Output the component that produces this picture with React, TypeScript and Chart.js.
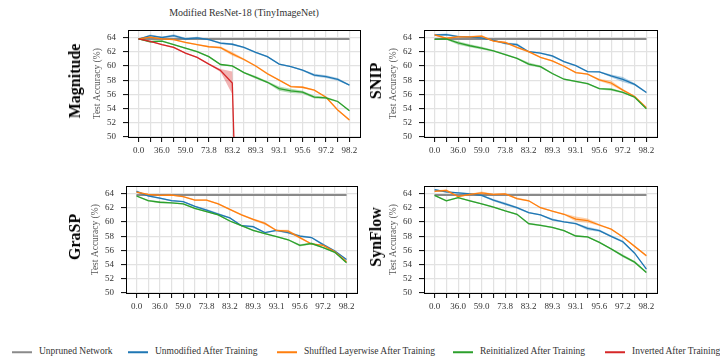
import React, { useEffect, useRef } from "react";
import { Chart, registerables } from "chart.js";
Chart.register(...registerables);

// ---------- data ----------
const sparsityLabels = ["0.0","20.0","36.0","48.8","59.0","67.2","73.8","79.0","83.2","86.6","89.3","91.4","93.1","94.5","95.6","96.5","97.2","97.7","98.2"];
const yTickValues = [50, 52, 54, 56, 58, 60, 62, 64];
const unprunedAcc = [63.78,63.78,63.78,63.78,63.78,63.78,63.78,63.78,63.78,63.78,63.78,63.78,63.78,63.78,63.78,63.78,63.78,63.78,63.78];

// Magnitude
const magUnmodified = [63.77,64.26,64.0,64.26,63.8,63.95,63.7,63.2,63.05,62.6,61.9,61.3,60.25,59.9,59.4,58.7,58.5,58.1,57.3];
const magUnmodifiedStd = [0.05,0.15,0.1,0.2,0.15,0.15,0.1,0.15,0.15,0.1,0.1,0.1,0.1,0.1,0.1,0.2,0.2,0.2,0.1];
const magShuffled = [63.8,64.04,63.8,63.7,63.3,63.0,62.7,62.57,61.7,60.9,60.0,58.9,58.0,57.1,57.0,56.6,55.6,53.8,52.4];
const magShuffledStd = [0.05,0.1,0.1,0.1,0.1,0.1,0.1,0.15,0.25,0.15,0.1,0.15,0.1,0.1,0.15,0.1,0.1,0.1,0.15];
const magReinit = [63.8,63.4,63.5,63.0,62.5,62.0,61.3,60.2,60.0,59.05,58.4,57.7,56.8,56.5,56.3,55.6,55.5,55.0,53.7];
const magReinitStd = [0.05,0.15,0.1,0.1,0.1,0.1,0.1,0.1,0.1,0.1,0.2,0.15,0.3,0.3,0.2,0.2,0.15,0.1,0.1];
const magInverted = [63.8,63.46,63.0,62.6,61.8,61.2,60.25,59.36,57.6,0.5,0.5,0.5,0.5,0.5,0.5,0.5,0.5,0.5,0.5];
const magInvertedStd = [0.05,0.1,0.1,0.1,0.1,0.1,0.1,0.2,1.6,0,0,0,0,0,0,0,0,0,0];

// SNIP
const snipUnmodified = [64.36,64.4,64.13,64.04,63.96,63.6,63.16,63.0,62.0,61.8,61.4,60.6,60.04,59.2,59.16,58.6,58.1,57.4,56.27];
const snipUnmodifiedStd = [0.1,0.15,0.1,0.1,0.1,0.1,0.15,0.2,0.1,0.1,0.15,0.1,0.1,0.1,0.1,0.2,0.35,0.15,0.1];
const snipShuffled = [64.36,63.9,64.1,64.1,64.2,63.5,63.3,62.6,62.0,61.2,60.7,59.96,59.07,58.85,58.04,57.6,56.6,55.7,54.13];
const snipShuffledStd = [0.1,0.1,0.1,0.1,0.15,0.1,0.15,0.1,0.15,0.1,0.1,0.1,0.1,0.1,0.15,0.3,0.15,0.1,0.1];
const snipReinit = [63.73,63.8,63.24,62.84,62.5,62.13,61.6,61.07,60.27,59.9,58.93,58.13,57.82,57.5,56.8,56.7,56.27,55.6,53.96];
const snipReinitStd = [0.05,0.1,0.25,0.2,0.2,0.1,0.1,0.1,0.2,0.15,0.1,0.1,0.1,0.1,0.1,0.2,0.1,0.1,0.1];

// GraSP
const graspUnmodified = [64.3,63.65,63.34,62.99,62.86,62.2,61.67,61.1,60.57,59.47,59.33,58.5,58.8,58.5,58.0,57.8,56.8,55.9,54.7];
const graspUnmodifiedStd = [0.15,0.1,0.1,0.1,0.1,0.1,0.15,0.15,0.1,0.1,0.15,0.1,0.1,0.15,0.15,0.1,0.15,0.1,0.1];
const graspShuffled = [64.18,63.87,63.74,63.78,63.56,63.08,63.08,62.55,61.76,61.0,60.35,59.8,58.8,58.7,57.8,56.9,56.7,55.8,54.4];
const graspShuffledStd = [0.1,0.1,0.1,0.1,0.1,0.1,0.1,0.1,0.1,0.1,0.15,0.2,0.1,0.2,0.15,0.1,0.1,0.15,0.15];
const graspReinit = [63.65,62.99,62.77,62.68,62.55,61.9,61.45,61.0,60.13,59.47,58.8,58.37,57.93,57.49,56.7,56.96,56.38,55.72,54.27];
const graspReinitStd = [0.1,0.1,0.15,0.1,0.1,0.1,0.1,0.1,0.1,0.1,0.1,0.1,0.1,0.1,0.15,0.15,0.1,0.1,0.1];

// SynFlow
const synUnmodified = [64.53,64.22,64.09,63.96,63.73,63.07,62.54,62.0,61.3,60.99,60.32,60.01,59.75,59.08,58.77,57.98,57.22,55.6,53.37];
const synUnmodifiedStd = [0.1,0.1,0.1,0.1,0.1,0.15,0.2,0.15,0.1,0.1,0.15,0.1,0.1,0.25,0.15,0.15,0.15,0.1,0.1];
const synShuffled = [64.31,64.44,63.56,63.87,64.09,63.87,63.96,63.29,62.98,62.0,61.52,61.08,60.41,60.19,59.57,58.99,57.89,56.56,55.23];
const synShuffledStd = [0.1,0.15,0.1,0.1,0.2,0.1,0.1,0.15,0.1,0.1,0.1,0.1,0.35,0.3,0.15,0.1,0.1,0.1,0.15];
const synReinit = [63.73,62.98,63.42,62.98,62.54,62.1,61.56,61.08,59.75,59.53,59.22,58.77,58.02,57.89,57.13,56.2,55.23,54.34,52.88];
const synReinitStd = [0.1,0.1,0.1,0.1,0.1,0.1,0.1,0.1,0.15,0.1,0.1,0.1,0.1,0.1,0.1,0.1,0.2,0.15,0.15];

// ---------- styling ----------
const C_GRAY = "#8a8a8a";
const C_BLUE = "#1f77b4";
const C_ORANGE = "#ff7f0e";
const C_GREEN = "#2ca02c";
const C_RED = "#d62728";
const SERIF = "'Liberation Serif', 'DejaVu Serif', 'Times New Roman', serif";

function hexA(hex: string, a: number) {
  const n = parseInt(hex.slice(1), 16);
  return `rgba(${(n >> 16) & 255},${(n >> 8) & 255},${n & 255},${a})`;
}

function seriesSets(values: number[], std: number[], color: string, order: number, width = 1.3) {
  return [
    {
      data: values.map((v, i) => ({ x: i, y: v + std[i] })),
      borderColor: "rgba(0,0,0,0)", borderWidth: 0, pointRadius: 0, fill: false, order: order + 0.5,
    },
    {
      data: values.map((v, i) => ({ x: i, y: v - std[i] })),
      borderColor: "rgba(0,0,0,0)", borderWidth: 0, pointRadius: 0, fill: "-1",
      backgroundColor: hexA(color, 0.35), order: order + 0.5,
    },
    {
      data: values.map((v, i) => ({ x: i, y: v })),
      borderColor: color, borderWidth: width, pointRadius: 0, fill: false, order,
    },
  ];
}

const spinePlugin = {
  id: "spines",
  afterDraw(chart: any) {
    const { ctx, chartArea: a } = chart;
    ctx.save();
    ctx.strokeStyle = "#000";
    ctx.lineWidth = 1;
    ctx.strokeRect(Math.round(a.left) + 0.5, Math.round(a.top) + 0.5, Math.round(a.right - a.left), Math.round(a.bottom - a.top));
    ctx.restore();
  },
};

type Area = { l: number; r: number; t: number; b: number };
type PanelDef = { name: string; area: Area; labelDx: number; series: any[] };

const PAD_L = 68;
const PAD_R = 6;
const PAD_T = 6;
const XAX_H = 26;

const panels: PanelDef[] = [
  {
    name: "Magnitude", area: { l: 128, r: 360, t: 24, b: 137 }, labelDx: 53,
    series: [
      ...seriesSets(unprunedAcc, unprunedAcc.map(() => 0.08), C_GRAY, 10, 2),
      ...seriesSets(magUnmodified, magUnmodifiedStd, C_BLUE, 8),
      ...seriesSets(magShuffled, magShuffledStd, C_ORANGE, 6),
      ...seriesSets(magReinit, magReinitStd, C_GREEN, 4),
      ...seriesSets(magInverted, magInvertedStd, C_RED, 2),
    ],
  },
  {
    name: "SNIP", area: { l: 424, r: 657, t: 24, b: 137 }, labelDx: 48,
    series: [
      ...seriesSets(unprunedAcc, unprunedAcc.map(() => 0.08), C_GRAY, 10, 2),
      ...seriesSets(snipUnmodified, snipUnmodifiedStd, C_BLUE, 8),
      ...seriesSets(snipShuffled, snipShuffledStd, C_ORANGE, 6),
      ...seriesSets(snipReinit, snipReinitStd, C_GREEN, 4),
    ],
  },
  {
    name: "GraSP", area: { l: 126, r: 357, t: 180, b: 293 }, labelDx: 51,
    series: [
      ...seriesSets(unprunedAcc, unprunedAcc.map(() => 0.08), C_GRAY, 10, 2),
      ...seriesSets(graspUnmodified, graspUnmodifiedStd, C_BLUE, 8),
      ...seriesSets(graspShuffled, graspShuffledStd, C_ORANGE, 6),
      ...seriesSets(graspReinit, graspReinitStd, C_GREEN, 4),
    ],
  },
  {
    name: "SynFlow", area: { l: 424, r: 657, t: 180, b: 293 }, labelDx: 48,
    series: [
      ...seriesSets(unprunedAcc, unprunedAcc.map(() => 0.08), C_GRAY, 10, 2),
      ...seriesSets(synUnmodified, synUnmodifiedStd, C_BLUE, 8),
      ...seriesSets(synShuffled, synShuffledStd, C_ORANGE, 6),
      ...seriesSets(synReinit, synReinitStd, C_GREEN, 4),
    ],
  },
];

function Panel({ def }: { def: PanelDef }) {
  const ref = useRef<HTMLCanvasElement>(null);
  const a = def.area;
  const cx = a.l - PAD_L;
  const cy = a.t - PAD_T;
  const cw = a.r - a.l + PAD_L + PAD_R;
  const ch = a.b - a.t + PAD_T + XAX_H;

  useEffect(() => {
    if (!ref.current) return;
    const chart = new Chart(ref.current, {
      type: "line",
      data: { datasets: def.series as any },
      options: {
        animation: false,
        responsive: false,
        devicePixelRatio: 1,
        layout: { padding: { left: PAD_L - 36, right: PAD_R, top: PAD_T, bottom: 0 } },
        plugins: { legend: { display: false }, tooltip: { enabled: false }, title: { display: false } },
        scales: {
          x: {
            type: "linear",
            min: -0.9,
            max: 18.9,
            afterFit: (s: any) => { s.height = XAX_H; },
            afterBuildTicks: (s: any) => { s.ticks = sparsityLabels.map((_, i) => ({ value: i })); },
            ticks: {
              autoSkip: false, maxRotation: 0, minRotation: 0, padding: 3,
              color: "#333", font: { family: SERIF, size: 9 },
              callback: (v: any) => (Number(v) % 2 === 0 ? sparsityLabels[Number(v)] : ""),
            },
            grid: { color: "#e2e2e2", lineWidth: 1.2, tickColor: "#000", tickLength: 5, tickWidth: 1 },
            border: { display: true, color: "#000", width: 1 },
          },
          y: {
            type: "linear",
            min: 50,
            max: 65,
            afterFit: (s: any) => { s.width = 36; },
            afterBuildTicks: (s: any) => { s.ticks = yTickValues.map((v) => ({ value: v })); },
            ticks: { padding: 7, color: "#333", font: { family: SERIF, size: 9 }, callback: (v: any) => String(v) },
            grid: { color: "#e2e2e2", lineWidth: 1.2, tickColor: "#000", tickLength: 5, tickWidth: 1 },
            border: { display: true, color: "#000", width: 1 },
            title: { display: true, text: "Test Accuracy (%)", color: "#555", font: { family: SERIF, size: 9.5 }, padding: 0 },
          },
        },
      },
      plugins: [spinePlugin],
    });
    return () => chart.destroy();
  }, []);

  return (
    <>
      <canvas
        ref={ref}
        width={cw}
        height={ch}
        style={{ position: "absolute", left: cx, top: cy, width: cw, height: ch }}
      />
      <div
        style={{
          position: "absolute",
          left: a.l - def.labelDx,
          top: (a.t + a.b) / 2,
          transform: "translate(-50%, -50%) rotate(-90deg)",
          fontFamily: SERIF,
          fontWeight: "bold",
          fontSize: 16,
          color: "#000",
          whiteSpace: "nowrap",
          lineHeight: 1,
        }}
      >
        {def.name}
      </div>
    </>
  );
}

const legendItems = [
  { label: "Unpruned Network", color: C_GRAY, x: 12 },
  { label: "Unmodified After Training", color: C_BLUE, x: 128 },
  { label: "Shuffled Layerwise After Training", color: C_ORANGE, x: 277 },
  { label: "Reinitialized After Training", color: C_GREEN, x: 453 },
  { label: "Inverted After Training", color: C_RED, x: 605 },
];

export default function App() {
  return (
    <div style={{ position: "fixed", left: 0, top: 0, width: 720, height: 362, background: "#fff", overflow: "hidden" }}>
      <div
        style={{
          position: "absolute", left: 244, top: 13, transform: "translate(-50%, -50%)",
          fontFamily: SERIF, fontSize: 10, color: "#333", whiteSpace: "nowrap", lineHeight: 1,
        }}
      >
        Modified ResNet-18 (TinyImageNet)
      </div>
      {panels.map((p) => (
        <Panel key={p.name} def={p} />
      ))}
      {legendItems.map((it) => (
        <div key={it.label} style={{ position: "absolute", left: it.x, top: 352, transform: "translateY(-50%)", display: "flex", alignItems: "center", whiteSpace: "nowrap" }}>
          <div style={{ width: 20, height: 1.5, background: it.color }} />
          <span style={{ marginLeft: 7, fontFamily: SERIF, fontSize: 9.5, color: "#333", lineHeight: 1 }}>{it.label}</span>
        </div>
      ))}
    </div>
  );
}
